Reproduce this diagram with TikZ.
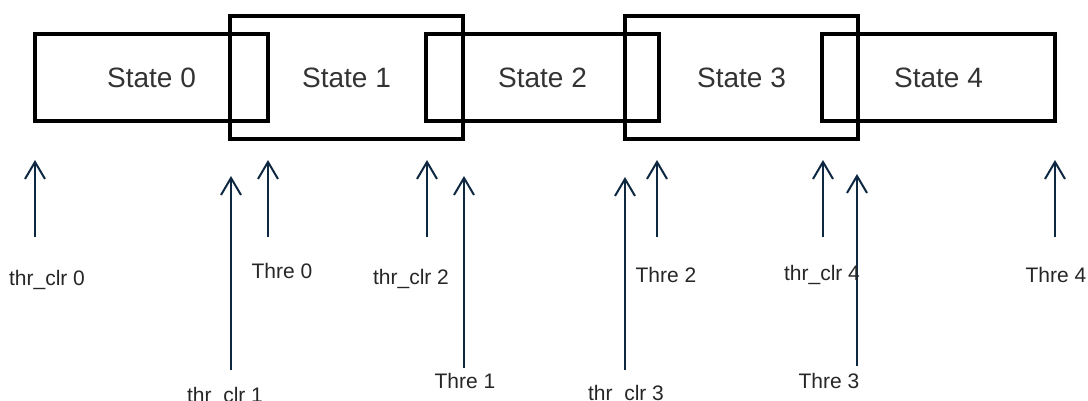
\documentclass[tikz,border=0pt]{standalone}
\usepackage{fontspec}
\setmainfont{Liberation Sans}
\usetikzlibrary{arrows.meta}
\definecolor{arrowblue}{HTML}{0E2841}

\begin{document}
\begin{tikzpicture}[x=1pt,y=-1pt,
    statebox/.style={draw=black,line width=4pt,minimum width=233pt,
      font=\fontsize{28}{32}\selectfont,text=black!80},
    small/.style={minimum height=87pt},
    big/.style={minimum height=123pt},
    thr/.style={draw=arrowblue,line width=2pt,-{Straight Barb[length=17pt,width=20pt]}},
    lbl/.style={anchor=base,font=\fontsize{21}{24}\selectfont,text=black!85}]
      \useasboundingbox (0,0) rectangle (1088,400);
      % the five states
      \node[statebox,small] (s0) at (151.5,77.5) {State 0};
      \node[statebox,big]   (s1) at (346.5,77.5) {State 1};
      \node[statebox,small] (s2) at (542.5,77.5) {State 2};
      \node[statebox,big]   (s3) at (741.5,77.5) {State 3};
      \node[statebox,small] (s4) at (938.5,77.5) {State 4};
      % short arrows
      \coordinate (c0) at (35,237);   \coordinate (c0t) at (35,160);
      \coordinate (t0) at (268,237);  \coordinate (t0t) at (268,160);
      \coordinate (c2) at (427,237);  \coordinate (c2t) at (427,160);
      \coordinate (t2) at (657,237);  \coordinate (t2t) at (657,160);
      \coordinate (c4) at (823,237);  \coordinate (c4t) at (823,160);
      \coordinate (t4) at (1055,237); \coordinate (t4t) at (1055,160);
      % long arrows
      \coordinate (c1) at (231,370);  \coordinate (c1t) at (231,176);
      \coordinate (t1) at (464,368);  \coordinate (t1t) at (464,176);
      \coordinate (c3) at (625,370);  \coordinate (c3t) at (625,177);
      \coordinate (t3) at (857,366);  \coordinate (t3t) at (857,174);
      \draw[thr] (c0) -- (c0t);
      \draw[thr] (t0) -- (t0t);
      \draw[thr] (c2) -- (c2t);
      \draw[thr] (t2) -- (t2t);
      \draw[thr] (c4) -- (c4t);
      \draw[thr] (t4) -- (t4t);
      \draw[thr] (c1) -- (c1t);
      \draw[thr] (t1) -- (t1t);
      \draw[thr] (c3) -- (c3t);
      \draw[thr] (t3) -- (t3t);
      % labels
      \node[lbl] (lc0) at (47,285)   {thr\_clr 0};
      \node[lbl] (lt0) at (282,278)  {Thre 0};
      \node[lbl] (lc2) at (411,284)  {thr\_clr 2};
      \node[lbl] (lt2) at (666,282)  {Thre 2};
      \node[lbl] (lc4) at (822,280)  {thr\_clr 4};
      \node[lbl] (lt4) at (1056,282) {Thre 4};
      \node[lbl] (lc1) at (225,402)  {thr\_clr 1};
      \node[lbl] (lt1) at (465,388)  {Thre 1};
      \node[lbl] (lc3) at (626,400)  {thr\_clr 3};
      \node[lbl] (lt3) at (829,388)  {Thre 3};
    \end{tikzpicture}
\end{document}
